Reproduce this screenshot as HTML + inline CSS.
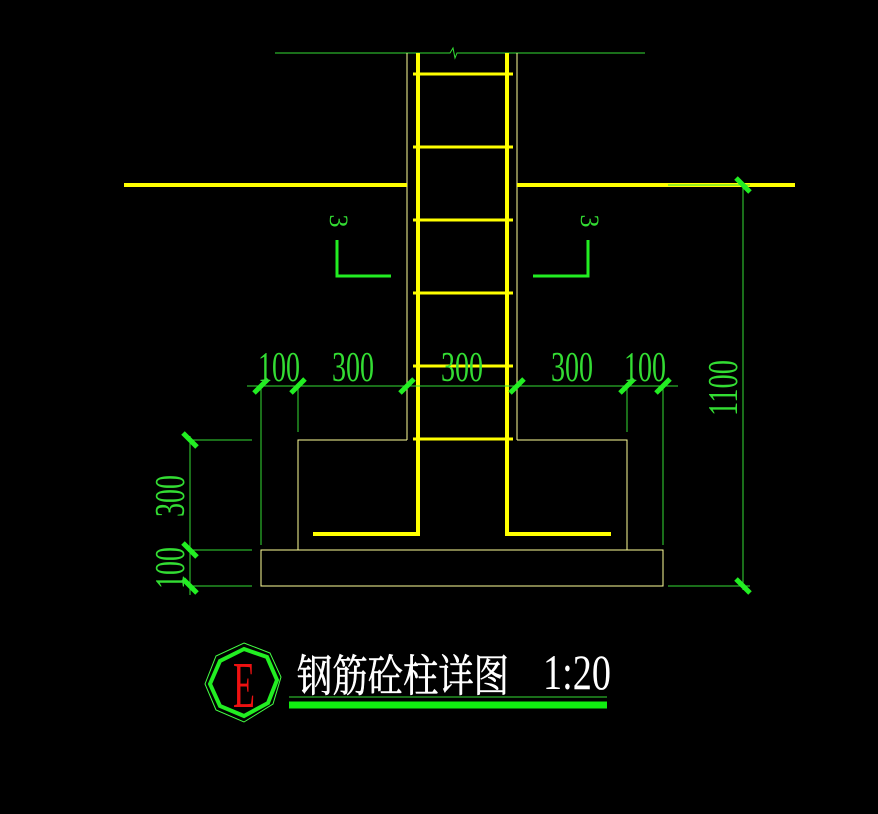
<!DOCTYPE html>
<html><head><style>html,body{margin:0;padding:0;background:#000;}svg{display:block}</style></head><body>
<svg width="878" height="814" viewBox="0 0 878 814" xmlns="http://www.w3.org/2000/svg">
<rect width="878" height="814" fill="#000"/>
<g stroke="#33dd33" stroke-width="1" fill="none">
<polyline points="275,53 450,53 453,48 455,58 457,53 645,53"/>
</g>
<g stroke="#ffff99" stroke-width="1" fill="none">
<line x1="407" y1="53" x2="407" y2="440"/>
<line x1="517" y1="53" x2="517" y2="440"/>
<polyline points="407,440 298,440 298,550"/>
<polyline points="517,440 627,440 627,550"/>
<rect x="261" y="550" width="402" height="36"/>
</g>
<g stroke="#ffff00" stroke-width="4">
<line x1="124" y1="185" x2="407" y2="185"/>
<line x1="517" y1="185" x2="795" y2="185"/>
</g>
<g stroke="#ffff00" stroke-width="4" fill="none">
<polyline points="418,53 418,534 313,534"/>
<polyline points="507,53 507,534 611,534"/>
</g>
<g stroke="#ffff00" stroke-width="3">
<line x1="413" y1="74" x2="513" y2="74"/>
<line x1="413" y1="147" x2="513" y2="147"/>
<line x1="413" y1="220" x2="513" y2="220"/>
<line x1="413" y1="293" x2="513" y2="293"/>
<line x1="413" y1="366" x2="513" y2="366"/>
<line x1="413" y1="439" x2="513" y2="439"/>
</g>
<g stroke="#22ee22" stroke-width="3" fill="none">
<polyline points="337,240 337,276 391,276"/>
<polyline points="588,240 588,276 533,276"/>
</g>
<g fill="#33dd33" font-family="Liberation Serif, serif" font-size="26">
<text transform="translate(338,221) rotate(90)" text-anchor="middle" dy="8">3</text>
<text transform="translate(589,221) rotate(90)" text-anchor="middle" dy="8">3</text>
</g>
<g stroke="#33dd33" stroke-width="1" fill="none">
<line x1="247" y1="386" x2="678" y2="386"/>
<line x1="261" y1="386" x2="261" y2="545"/>
<line x1="298" y1="386" x2="298" y2="432"/>
<line x1="627" y1="386" x2="627" y2="432"/>
<line x1="663" y1="386" x2="663" y2="545"/>
<line x1="190" y1="436" x2="190" y2="595"/>
<line x1="190" y1="440" x2="252" y2="440"/>
<line x1="190" y1="550" x2="252" y2="550"/>
<line x1="190" y1="586" x2="252" y2="586"/>
<line x1="743" y1="185" x2="743" y2="590"/>
<line x1="668" y1="185" x2="750" y2="185"/>
<line x1="668" y1="586" x2="750" y2="586"/>
</g>
<g stroke="#22ee22" stroke-width="5">
<line x1="254" y1="393" x2="268" y2="379"/>
<line x1="291" y1="393" x2="305" y2="379"/>
<line x1="400" y1="393" x2="414" y2="379"/>
<line x1="510" y1="393" x2="524" y2="379"/>
<line x1="620" y1="393" x2="634" y2="379"/>
<line x1="656" y1="393" x2="670" y2="379"/>
<line x1="183" y1="433" x2="197" y2="447"/>
<line x1="183" y1="543" x2="197" y2="557"/>
<line x1="183" y1="579" x2="197" y2="593"/>
<line x1="736" y1="178" x2="750" y2="192"/>
<line x1="736" y1="579" x2="750" y2="593"/>
</g>
<g fill="#33dd33" font-family="Liberation Serif, serif" font-size="42" text-anchor="middle">
<text x="279" y="381" textLength="42" lengthAdjust="spacingAndGlyphs">100</text>
<text x="353" y="381" textLength="42" lengthAdjust="spacingAndGlyphs">300</text>
<text x="462" y="381" textLength="42" lengthAdjust="spacingAndGlyphs">300</text>
<text x="572" y="381" textLength="42" lengthAdjust="spacingAndGlyphs">300</text>
<text x="645" y="381" textLength="42" lengthAdjust="spacingAndGlyphs">100</text>
<text transform="translate(184,496) rotate(-90)" textLength="42" lengthAdjust="spacingAndGlyphs">300</text>
<text transform="translate(184,568) rotate(-90)" textLength="42" lengthAdjust="spacingAndGlyphs">100</text>
<text transform="translate(737,388) rotate(-90)" textLength="56" lengthAdjust="spacingAndGlyphs">1100</text>
</g>
<polygon points="244,643 270,653 281,677 273,704 244,722 216,710 205,684 216,656" fill="none" stroke="#44ff44" stroke-width="1"/>
<polygon points="244,649 267,657 277,680 268,703 244,716 220,706 210,684 220,661" fill="none" stroke="#22ee22" stroke-width="4"/>
<text x="244" y="707" text-anchor="middle" fill="#ee1111" font-family="Liberation Serif, serif" font-size="66" textLength="22" lengthAdjust="spacingAndGlyphs">E</text>
<text x="297" y="691" fill="#fff" stroke="#fff" stroke-width="0.6" font-family="Liberation Serif, 'Noto Serif CJK SC', 'Noto Sans CJK SC', serif" font-size="44" textLength="212" lengthAdjust="spacingAndGlyphs">钢筋砼柱详图</text>
<text x="543" y="689" fill="#fff" font-family="Liberation Serif, serif" font-size="50" textLength="68" lengthAdjust="spacingAndGlyphs">1:20</text>
<line x1="289" y1="697" x2="607" y2="697" stroke="#33dd33" stroke-width="1"/>
<line x1="289" y1="705" x2="607" y2="705" stroke="#11ee11" stroke-width="7"/>
</svg>
</body></html>
